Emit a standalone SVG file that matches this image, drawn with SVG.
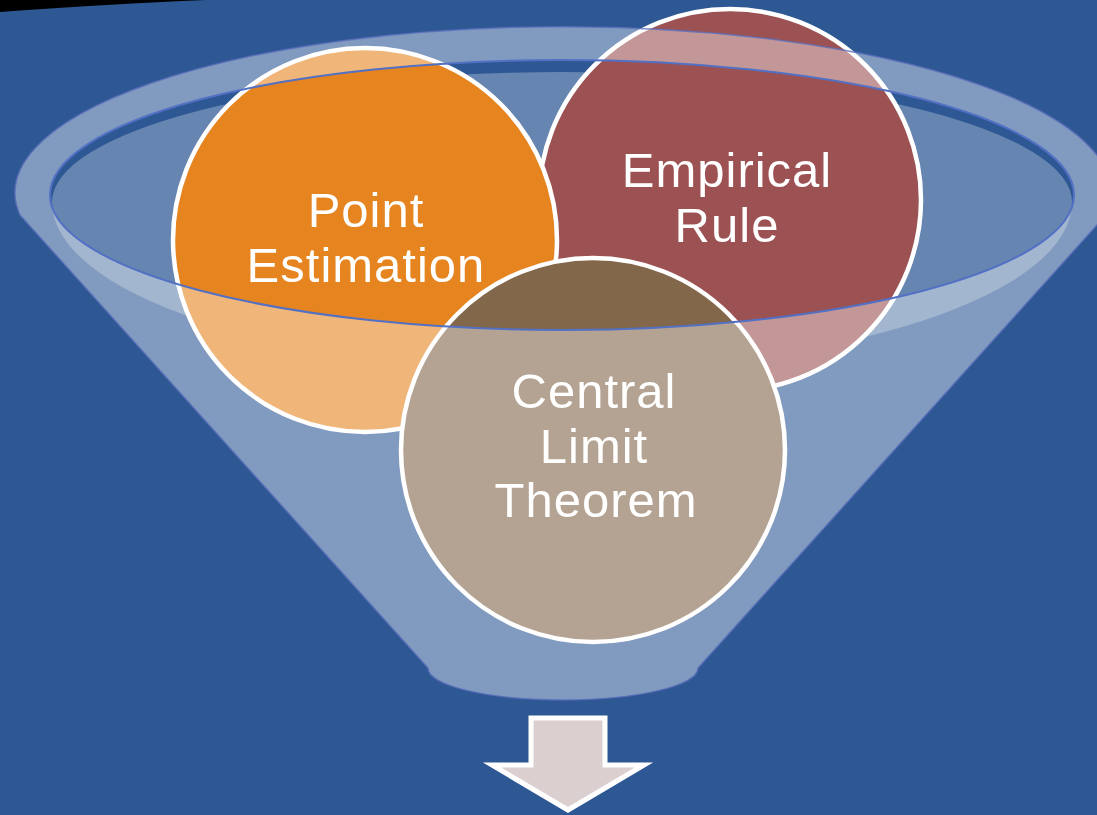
<svg xmlns="http://www.w3.org/2000/svg" width="1097" height="815" viewBox="0 0 1097 815">
  <style>
    .circ { stroke: #FFFFFF; stroke-width: 4.5; }
    .lbl { font-family: "Liberation Sans", Arial, sans-serif; font-size: 49px; fill: #FFFFFF; text-anchor: middle; letter-spacing: 1px; }
  </style>
  <rect x="0" y="0" width="1097" height="815" fill="#2E5894"/>
  <path d="M0,0 H206 Q110,4 0,12 Z" fill="#000000"/>

  <g id="funnel-back">
    <path d="M52,202 A510,130 0 0,1 1072,202 A510,168 0 0,1 52,202 Z" fill="#FFFFFF" fill-opacity="0.27"/>
  </g>

  <g id="node-empirical">
    <circle class="circ" cx="730" cy="200" r="191" fill="#9C5152"/>
  </g>
  <g id="node-point">
    <circle class="circ" cx="365" cy="240" r="192" fill="#E6841F"/>
  </g>
  <g id="node-central">
    <circle class="circ" cx="593" cy="450" r="192" fill="#82674A"/>
  </g>

  <g id="funnel-front">
    <path d="M20,215 A548,166 0 1,1 1106,215 L698,668 A135,32 0 0,1 428,668 Z M50,195 A512,135 0 1,0 1074,195 A512,135 0 1,0 50,195 Z" fill="#FFFFFF" fill-opacity="0.4" fill-rule="evenodd"/>
    <path d="M20,215 A548,166 0 1,1 1106,215 L698,668 A135,32 0 0,1 428,668 Z" fill="none" stroke="#5A6EBB" stroke-width="1.5" stroke-opacity="0.8"/>
    <ellipse cx="562" cy="195" rx="512" ry="135" fill="none" stroke="#5270C4" stroke-width="2"/>
  </g>

  <g id="labels">
    <text class="lbl" x="366" y="227">Point</text>
    <text class="lbl" x="366" y="282">Estimation</text>
    <text class="lbl" x="727" y="187">Empirical</text>
    <text class="lbl" x="727" y="242">Rule</text>
    <text class="lbl" x="594" y="408">Central</text>
    <text class="lbl" x="594" y="463">Limit</text>
    <text class="lbl" x="596" y="517">Theorem</text>
  </g>

  <g id="connectors">
    <path d="M531,718 H605 V765 H644 L568,810 L492,765 H531 Z" fill="#DCCFD0" stroke="#FFFFFF" stroke-width="5"/>
  </g>
</svg>
